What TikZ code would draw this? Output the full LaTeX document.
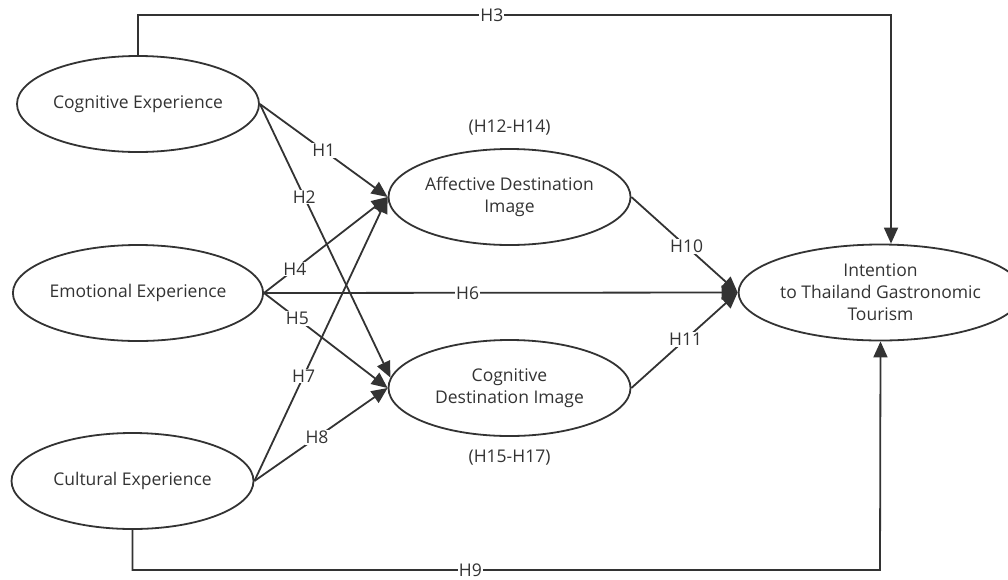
\documentclass[tikz,border=0pt]{standalone}
\usepackage{fontspec}
\setmainfont{Open Sans}
\usetikzlibrary{arrows.meta,calc,shapes.geometric}
\definecolor{ink}{HTML}{333333}
\begin{document}
\begin{tikzpicture}[x=1pt,y=-1pt,
  lv/.style={draw=ink,line width=1.8pt,ellipse,minimum width=242pt,minimum height=96pt,inner sep=0pt,text=ink,font=\fontsize{17.5}{22}\selectfont,align=center},
  conn/.style={draw=ink,line width=1.8pt,-{Triangle[length=16pt,width=14pt]}},
  lab/.style={fill=white,text=ink,font=\fontsize{17.5}{19}\selectfont,inner sep=1pt},
  ann/.style={text=ink,font=\fontsize{17.5}{19}\selectfont}]
\useasboundingbox (0,0) rectangle (1008,579);
\node[lv] (ce) at (138,104) {Cognitive Experience};
\node[lv] (ee) at (138,293) {Emotional Experience};
\node[lv] (cu) at (132.5,481) {Cultural Experience};
\node[lv] (adi) at (509.5,197) {Affective Destination\\Image};
\node[lv] (cdi) at (509.5,388) {Cognitive\\Destination Image};
\node[lv] (int) at (880.5,292.5) {Intention\\to Thailand Gastronomic\\Tourism};
\node[ann] (a1) at (509.5,128) {(H12-H14)};
\node[ann] (a2) at (509.5,458) {(H15-H17)};
\coordinate (h3) at (891,15);
\coordinate (h9) at (880,570);
\draw[conn] (ce.north) |- (h3) node[lab,pos=0.735] {H3} -- (int.north -| h3);
\draw[conn] (cu.south) |- (h9) node[lab,pos=0.726] {H9} -- (int.south);
\draw[conn] (ce.east) -- (adi.west) node[lab,pos=0.5] {H1};
\draw[conn] (ce.east) -- (cdi.175) node[lab,pos=0.34] {H2};
\draw[conn] (ee.east) -- (adi.west) node[lab,pos=0.25] {H4};
\draw[conn] (ee.east) -- (cdi.west) node[lab,pos=0.27] {H5};
\draw[conn] (ee.east) -- (int.west) node[lab,pos=0.43] {H6};
\draw[conn] (cu.east) -- (adi.west) node[lab,pos=0.37] {H7};
\draw[conn] (cu.east) -- (cdi.west) node[lab,pos=0.47] {H8};
\draw[conn] (adi.east) -- (int.west) node[lab,pos=0.52] {H10};
\draw[conn] (cdi.east) -- (int.west) node[lab,pos=0.51] {H11};
\end{tikzpicture}
\end{document}
